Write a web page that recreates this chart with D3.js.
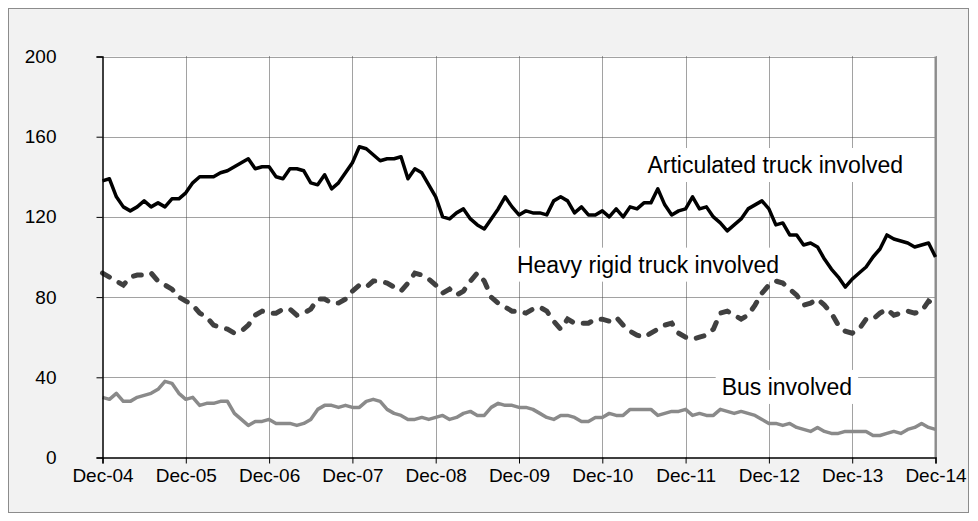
<!DOCTYPE html>
<html>
<head>
<meta charset="utf-8">
<script src="https://cdn.jsdelivr.net/npm/d3@7"></script>
<style>
  body { margin: 0; background: #fff; }
  svg text { font-family: Arial, "Liberation Sans", Helvetica, sans-serif; fill: #000; }
</style>
</head>
<body>
<div class="chart"></div>
<script>
// month index 0 = Dec-04 ... 120 = Dec-14
var tickLabels = ["Dec-04", "Dec-05", "Dec-06", "Dec-07", "Dec-08", "Dec-09",
                  "Dec-10", "Dec-11", "Dec-12", "Dec-13", "Dec-14"];
var yTicks = [0, 40, 80, 120, 160, 200];

var articulated = [
  138, 139, 130, 125, 123, 125, 128, 125, 127, 125, 129, 129, 132, 137, 140, 140,
  140, 142, 143, 145, 147, 149, 144, 145, 145, 140, 139, 144, 144, 143, 137, 136,
  141, 134, 137, 142, 147, 155, 154, 151, 148, 149, 149, 150, 139, 144, 142, 136,
  130, 120, 119, 122, 124, 119, 116, 114, 119, 124, 130, 125, 121, 123, 122, 122,
  121, 128, 130, 128, 122, 125, 121, 121, 123, 120, 124, 120, 125, 124, 127, 127,
  134, 126, 121, 123, 124, 130, 124, 125, 120, 117, 113, 116, 119, 124, 126, 128,
  124, 116, 117, 111, 111, 106, 107, 105, 99, 94, 90, 85, 89, 92, 95, 100,
  104, 111, 109, 108, 107, 105, 106, 107, 100
];

var heavyRigid = [
  92, 90, 88, 86, 90, 91, 91, 92, 88, 86, 84, 80, 78, 76, 72, 70,
  66, 65, 64, 62, 63, 66, 71, 73, 72, 72, 74, 74, 71, 72, 74, 79,
  79, 77, 77, 79, 83, 86, 85, 88, 88, 87, 85, 83, 87, 92, 91, 89,
  86, 82, 84, 81, 83, 88, 92, 88, 80, 77, 75, 73, 73, 72, 74, 75,
  73, 68, 64, 69, 67, 67, 67, 69, 69, 68, 70, 66, 63, 61, 60, 62,
  64, 66, 67, 62, 60, 59, 60, 61, 64, 72, 73, 71, 69, 71, 76, 82,
  86, 88, 87, 84, 81, 76, 77, 79, 76, 72, 66, 63, 62, 64, 69, 69,
  72, 74, 71, 72, 73, 72, 73, 78, 76
];

var bus = [
  30, 29, 32, 28, 28, 30, 31, 32, 34, 38, 37, 32, 29, 30, 26, 27,
  27, 28, 28, 22, 19, 16, 18, 18, 19, 17, 17, 17, 16, 17, 19, 24,
  26, 26, 25, 26, 25, 25, 28, 29, 28, 24, 22, 21, 19, 19, 20, 19,
  20, 21, 19, 20, 22, 23, 21, 21, 25, 27, 26, 26, 25, 25, 24, 22,
  20, 19, 21, 21, 20, 18, 18, 20, 20, 22, 21, 21, 24, 24, 24, 24,
  21, 22, 23, 23, 24, 21, 22, 21, 21, 24, 23, 22, 23, 22, 21, 19,
  17, 17, 16, 17, 15, 14, 13, 15, 13, 12, 12, 13, 13, 13, 13, 11,
  11, 12, 13, 12, 14, 15, 17, 15, 14
];

var seriesNames = ["Articulated truck involved", "Heavy rigid truck involved", "Bus involved"];

var width = 978, height = 521;
var margin = {left: 102.5, right: 42.5, top: 56.5, bottom: 63.5};

var svg = d3.select(".chart").append("svg")
    .attr("width", width)
    .attr("height", height);

// chart area frame
svg.append("rect")
    .attr("x", 8.5).attr("y", 8.5)
    .attr("width", 960).attr("height", 504)
    .attr("fill", "#f2f2f2")
    .attr("stroke", "#8c8c8c");

var x = d3.scaleLinear().domain([0, 120]).range([margin.left, width - margin.right]);
var y = d3.scaleLinear().domain([0, 200]).range([height - margin.bottom, margin.top]);

// plot area
svg.append("rect")
    .attr("x", x(0)).attr("y", y(200))
    .attr("width", x(120) - x(0)).attr("height", y(0) - y(200))
    .attr("fill", "#fff");

var grid = svg.append("g").attr("class", "grid");
grid.selectAll("line.h")
    .data(yTicks.filter(function (d) { return d > 0; }))
    .enter().append("line")
    .attr("class", "h")
    .attr("x1", x(0)).attr("x2", x(120))
    .attr("y1", function (d) { return Math.round(y(d)) + 0.5; })
    .attr("y2", function (d) { return Math.round(y(d)) + 0.5; })
    .attr("stroke", "#444")
    .attr("stroke-dasharray", "1,1");

grid.selectAll("line.v")
    .data(d3.range(12, 121, 12))
    .enter().append("line")
    .attr("class", "v")
    .attr("y1", y(0)).attr("y2", y(200))
    .attr("x1", function (d) { return Math.round(x(d)) + 0.5; })
    .attr("x2", function (d) { return Math.round(x(d)) + 0.5; })
    .attr("stroke", "#444")
    .attr("stroke-dasharray", "1,1");

// plot border right side
svg.append("line")
    .attr("x1", x(120)).attr("x2", x(120))
    .attr("y1", y(0)).attr("y2", y(200))
    .attr("stroke", "#8c8c8c").attr("stroke-width", 2);

// label boxes (white fill hides gridlines)
var labels = [
  {text: seriesNames[0], i: 78.5, v: 141.9},
  {text: seriesNames[1], i: 59.7, v: 92.2},
  {text: seriesNames[2], i: 89.2, v: 31.2}
];

var labelG = svg.append("g");
labels.forEach(function (l) {
  var t = labelG.append("text")
      .attr("x", x(l.i))
      .attr("y", y(l.v))
      .style("font-size", "23px")
      .text(l.text);
  var bb = t.node().getBBox();
  labelG.insert("rect", "text")
      .attr("x", bb.x - 6).attr("y", bb.y - 4)
      .attr("width", bb.width + 12).attr("height", bb.height + 8)
      .attr("fill", "#fff");
});

var line = d3.line()
    .x(function (d, i) { return x(i); })
    .y(function (d) { return y(d); });

svg.append("path").datum(bus)
    .attr("d", line)
    .attr("fill", "none")
    .attr("stroke", "#8a8a8a")
    .attr("stroke-width", 3.5)
    .attr("stroke-linejoin", "round");

svg.append("path").datum(heavyRigid)
    .attr("d", line)
    .attr("fill", "none")
    .attr("stroke", "#404040")
    .attr("stroke-width", 5)
    .attr("stroke-linecap", "round")
    .attr("stroke-dasharray", "8,11");

svg.append("path").datum(articulated)
    .attr("d", line)
    .attr("fill", "none")
    .attr("stroke", "#000")
    .attr("stroke-width", 3.5)
    .attr("stroke-linejoin", "round");

// axes
var yAxis = d3.axisLeft(y).tickValues(yTicks).tickSize(6).tickPadding(40);
var xAxis = d3.axisBottom(x).tickValues(d3.range(0, 121, 12)).tickSize(6).tickPadding(5)
    .tickFormat(function (d) { return tickLabels[d / 12]; });

var gy = svg.append("g")
    .attr("transform", "translate(" + x(0) + ",0)")
    .call(yAxis);
var gx = svg.append("g")
    .attr("transform", "translate(0," + y(0) + ")")
    .call(xAxis);

[gx, gy].forEach(function (g) {
  g.select(".domain").attr("stroke", "#000").attr("stroke-width", 1.5);
  g.selectAll(".tick line").attr("stroke", "#000");
  g.selectAll(".tick text").style("font-size", "19px")
      .style("font-family", "Arial, 'Liberation Sans', sans-serif")
      .attr("fill", "#000");
});
</script>
</body>
</html>
